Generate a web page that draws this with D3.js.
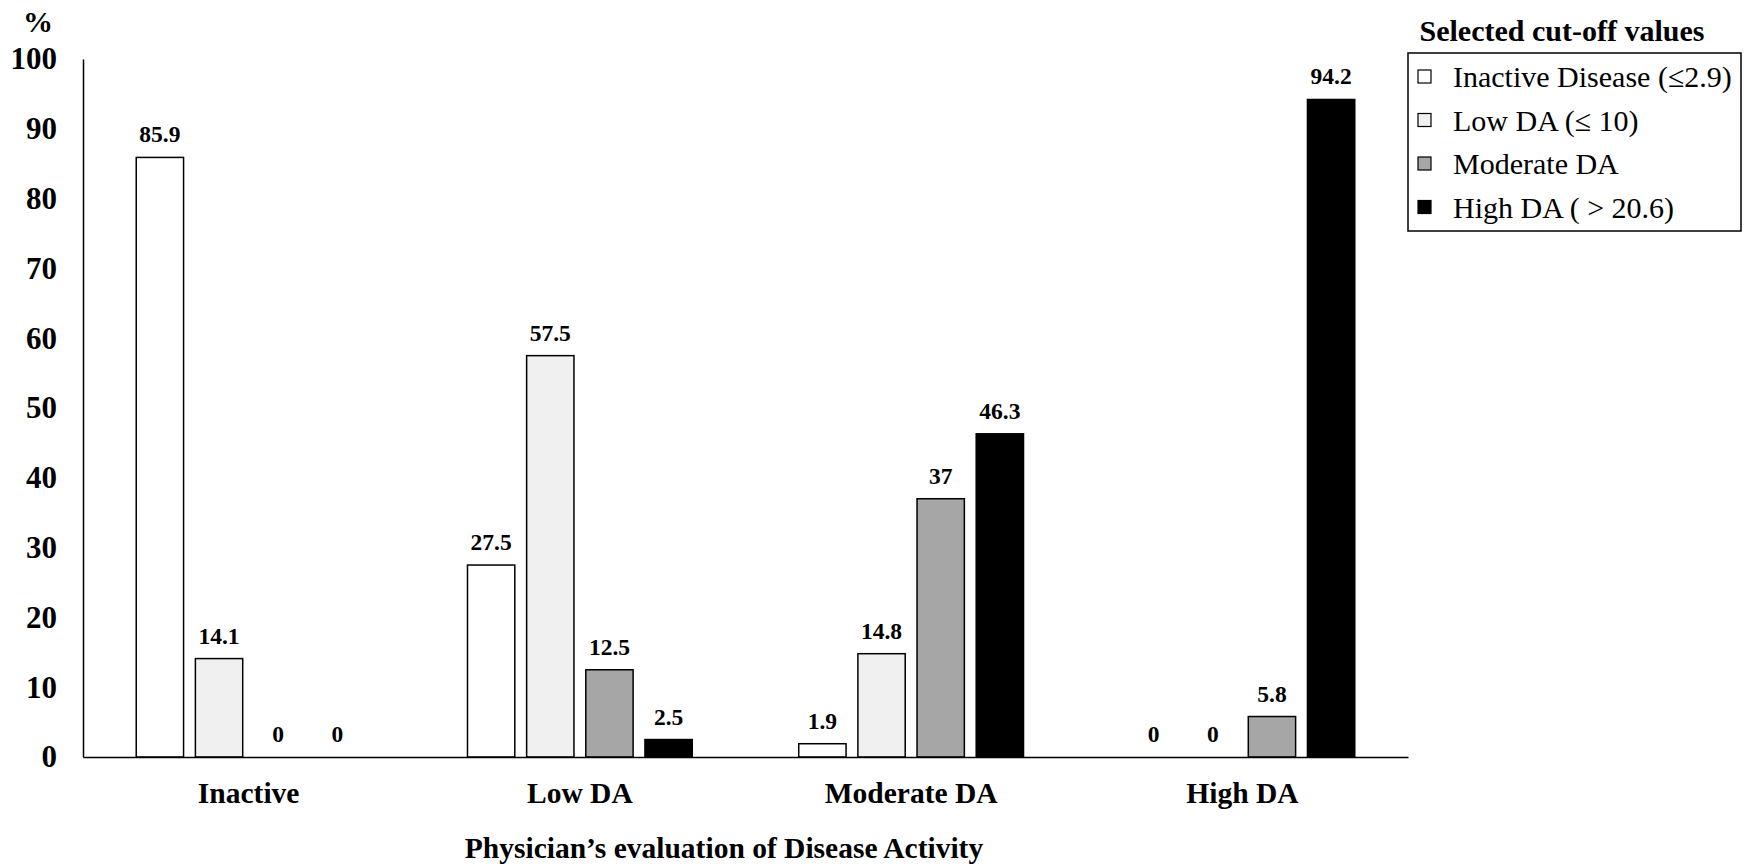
<!DOCTYPE html>
<html>
<head>
<meta charset="utf-8">
<script src="https://cdn.jsdelivr.net/npm/d3@7"></script>
<style>
  body { margin: 0; background: #fff; }
  text { font-family: "Liberation Serif", "Times New Roman", serif; }
</style>
</head>
<body>
<script>
// Data
var categories = ["Inactive", "Low DA", "Moderate DA", "High DA"];
var seriesNames = ["Inactive Disease (\u22642.9)", "Low DA (\u2264 10)", "Moderate DA", "High DA ( > 20.6)"];
var seriesColors = ["#ffffff", "#f0f0f0", "#a6a6a6", "#000000"];
var inactiveVals = [85.9, 27.5, 1.9, 0];
var lowVals = [14.1, 57.5, 14.8, 0];
var moderateVals = [0, 12.5, 37, 5.8];
var highVals = [0, 2.5, 46.3, 94.2];
var yTicks = [0, 10, 20, 30, 40, 50, 60, 70, 80, 90, 100];

var seriesVals = [inactiveVals, lowVals, moderateVals, highVals];

var width = 1745, height = 866;
var margin = { top: 59, right: 337, bottom: 109, left: 83 };
var plotW = width - margin.left - margin.right,
  plotH = height - margin.top - margin.bottom;

var svg = d3
  .select("body")
  .append("svg")
  .attr("width", width)
  .attr("height", height);

var g = svg
  .append("g")
  .attr("transform", "translate(" + margin.left + "," + margin.top + ")");

// scales
var x0 = d3.scaleBand().domain(categories).range([0, plotW]).padding(0);
var x1 = d3
  .scaleBand()
  .domain(d3.range(seriesNames.length))
  .range([0, x0.bandwidth()])
  .paddingInner(0.2)
  .paddingOuter(0.9);
var y = d3.scaleLinear().domain([0, 100]).range([plotH, 0]);

// bars
categories.forEach(function (cat, ci) {
  var grp = g.append("g").attr("transform", "translate(" + x0(cat) + ",0)");
  seriesVals.forEach(function (vals, si) {
    var v = vals[ci];
    if (v > 0) {
      grp
        .append("rect")
        .attr("x", x1(si))
        .attr("y", y(v))
        .attr("width", x1.bandwidth())
        .attr("height", y(0) - y(v))
        .attr("fill", seriesColors[si])
        .attr("stroke", "#000")
        .attr("stroke-width", 1.5);
    }
    grp
      .append("text")
      .attr("x", x1(si) + x1.bandwidth() / 2)
      .attr("y", y(v) - 15)
      .attr("text-anchor", "middle")
      .attr("font-weight", "bold")
      .attr("font-size", 23.5)
      .text(v);
  });
});

// Y axis
var yAxis = g
  .append("g")
  .call(d3.axisLeft(y).tickValues(yTicks).tickSize(0).tickPadding(26));
yAxis.select(".domain").attr("stroke", "#000").attr("stroke-width", 1.5);
yAxis
  .selectAll("text")
  .attr("font-size", 31)
  .attr("font-weight", "bold")
  .attr("font-family", "Liberation Serif");

// X axis
var xAxis = g
  .append("g")
  .attr("transform", "translate(0," + plotH + ")")
  .call(d3.axisBottom(x0).tickSize(0).tickPadding(25));
xAxis.select(".domain").attr("stroke", "#000").attr("stroke-width", 1.5);
xAxis
  .selectAll("text")
  .attr("font-size", 29.5)
  .attr("font-weight", "bold")
  .attr("font-family", "Liberation Serif");

// unit label
svg
  .append("text")
  .attr("x", 38)
  .attr("y", 32)
  .attr("text-anchor", "middle")
  .attr("font-size", 30)
  .attr("font-weight", "bold")
  .text("%");

// x axis title
svg
  .append("text")
  .attr("x", 724)
  .attr("y", 858)
  .attr("text-anchor", "middle")
  .attr("font-size", 29.5)
  .attr("font-weight", "bold")
  .text("Physician\u2019s evaluation of Disease Activity");

// Legend
var lx = 1408, ly = 53, lw = 333, lh = 178;
svg
  .append("text")
  .attr("x", 1562)
  .attr("y", 41)
  .attr("text-anchor", "middle")
  .attr("font-size", 30)
  .attr("font-weight", "bold")
  .text("Selected cut-off values");

svg
  .append("rect")
  .attr("x", lx)
  .attr("y", ly)
  .attr("width", lw)
  .attr("height", lh)
  .attr("fill", "none")
  .attr("stroke", "#000")
  .attr("stroke-width", 1.5);

seriesNames.forEach(function (name, i) {
  var rowY = ly + 24 + i * 43.5;
  svg
    .append("rect")
    .attr("x", lx + 10)
    .attr("y", rowY - 7)
    .attr("width", 13)
    .attr("height", 13)
    .attr("fill", seriesColors[i])
    .attr("stroke", "#000")
    .attr("stroke-width", 1.2);
  svg
    .append("text")
    .attr("x", lx + 45)
    .attr("y", rowY + 10)
    .attr("font-size", 30)
    .text(name);
});
</script>
</body>
</html>
